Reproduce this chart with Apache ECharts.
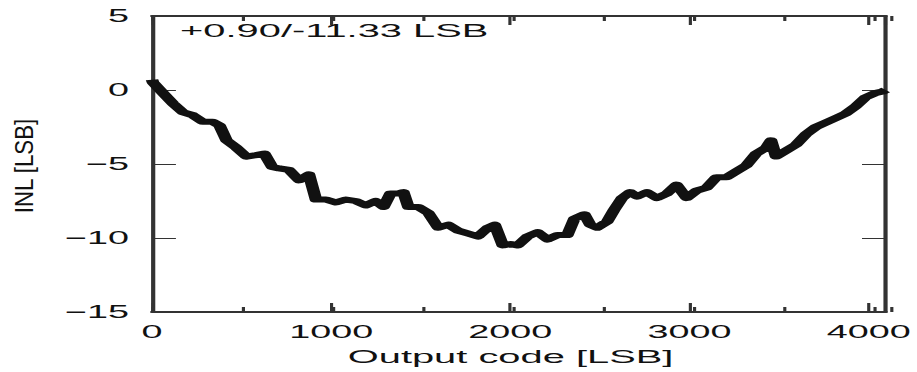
<!DOCTYPE html>
<html>
<head>
<meta charset="utf-8">
<script src="https://cdn.jsdelivr.net/npm/echarts@6/dist/echarts.min.js"></script>
<style>
html,body{margin:0;padding:0;background:#fff;overflow:hidden;}
#wrap{width:917px;height:372px;overflow:hidden;}
#chart{width:437px;height:372px;transform:scaleX(2.0984);transform-origin:0 0;}
</style>
</head>
<body>
<div id="wrap"><div id="chart"></div></div>
<script>
// Output code [LSB]
const codes = [0,6,61,116,172,227,283,338,377,416,471,527,582,627,671,710,765,821,876,915,971,1026,1082,1137,1192,1248,1292,1331,1375,1403,1431,1486,1542,1597,1653,1708,1764,1819,1875,1913,1958,2002,2041,2096,2152,2207,2263,2318,2357,2413,2446,2485,2540,2579,2623,2668,2707,2762,2818,2873,2928,2984,3039,3095,3150,3206,3261,3317,3372,3428,3455,3483,3539,3594,3649,3705,3760,3816,3871,3927,3982,4038,4077,4095];
// INL [LSB]
const inl = [0.7,0.5,-0.2,-0.9,-1.5,-1.7,-2.15,-2.15,-2.4,-3.4,-3.9,-4.5,-4.4,-4.3,-5.2,-5.3,-5.4,-6.1,-5.7,-7.4,-7.4,-7.6,-7.4,-7.5,-7.8,-7.5,-7.9,-7.0,-7.0,-6.9,-7.9,-7.9,-8.3,-9.3,-9.1,-9.5,-9.7,-9.9,-9.3,-9.1,-10.5,-10.4,-10.5,-9.9,-9.6,-10.1,-9.8,-9.8,-8.7,-8.4,-9.1,-9.3,-8.9,-8.1,-7.3,-6.9,-7.2,-6.9,-7.3,-7.0,-6.4,-7.3,-6.8,-6.6,-5.9,-5.9,-5.5,-5.1,-4.3,-3.9,-3.4,-4.5,-4.1,-3.7,-3.0,-2.5,-2.2,-1.9,-1.6,-1.1,-0.5,-0.2,-0.1,0.0];
const xTicks = [0,1000,2000,3000,4000];
const yTicks = [-15,-10,-5,0,5];
const annotation = '+0.90/-11.33 LSB';

const FONT = "'Liberation Sans', Arial, sans-serif";
const AX = '#333';
const gridRect = {left:72.44, right:11.91, top:16, bottom:60, containLabel:false};
const fmtY = v => (v < 0 ? '\u2212' + Math.abs(v) : String(v));

const chart = echarts.init(document.getElementById('chart'), null, {renderer:'svg'});
chart.setOption({
  animation:false,
  backgroundColor:'#fff',
  grid:[Object.assign({}, gridRect), Object.assign({}, gridRect)],
  xAxis:[
    {gridIndex:0, type:'value', position:'bottom', min:0, max:4096, interval:1000,
     axisLine:{onZero:false, lineStyle:{color:AX, width:2}},
     axisTick:{inside:true, length:9, lineStyle:{color:AX, width:1.5}},
     splitLine:{show:false},
     axisLabel:{margin:11, fontSize:18, color:'#111', fontFamily:FONT, showMaxLabel:false,
       formatter:v => (xTicks.indexOf(v) >= 0 ? String(v) : '')},
     name:'Output code [LSB]', nameLocation:'middle', nameGap:35,
     nameTextStyle:{fontSize:19, color:'#111', fontFamily:FONT, padding:[0,8,0,0]}},
    {gridIndex:0, type:'value', position:'top', min:0, max:4096, interval:1000,
     axisLine:{onZero:false, lineStyle:{color:AX, width:2}},
     axisTick:{inside:true, length:9, lineStyle:{color:AX, width:1.5}},
     axisLabel:{show:false}, splitLine:{show:false}},
    {gridIndex:1, type:'value', position:'bottom', min:0, max:4096, interval:500,
     axisLine:{show:false, onZero:false},
     axisTick:{inside:true, length:5, lineStyle:{color:AX, width:1.5}},
     axisLabel:{show:false}, splitLine:{show:false}},
    {gridIndex:1, type:'value', position:'top', min:0, max:4096, interval:500,
     axisLine:{show:false, onZero:false},
     axisTick:{inside:true, length:5, lineStyle:{color:AX, width:1.5}},
     axisLabel:{show:false}, splitLine:{show:false}}
  ],
  yAxis:[
    {gridIndex:0, type:'value', position:'left', min:-15, max:5, interval:5,
     axisLine:{onZero:false, lineStyle:{color:AX, width:2}},
     axisTick:{inside:true, length:11.4, lineStyle:{color:AX, width:1}},
     splitLine:{show:false},
     axisLabel:{margin:11, fontSize:18, color:'#111', fontFamily:FONT,
       formatter:v => (yTicks.indexOf(v) >= 0 ? fmtY(v) : '')}},
    {gridIndex:0, type:'value', position:'right', min:-15, max:5, interval:5,
     axisLine:{onZero:false, lineStyle:{color:AX, width:2}},
     axisTick:{inside:true, length:11.4, lineStyle:{color:AX, width:1}},
     axisLabel:{show:false}, splitLine:{show:false}},
    {gridIndex:1, type:'value', min:-15, max:5, show:false}
  ],
  graphic:[
    {type:'text', x:11.4, y:166, rotation:Math.PI/2, scaleX:1.39, scaleY:0.75,
     style:{text:'INL [LSB]', font:'16px ' + FONT, fill:'#111', align:'center', verticalAlign:'middle'}},
    {type:'text', x:85.8, y:31, style:{text:annotation, font:'19px ' + FONT, fill:'#111', align:'left', verticalAlign:'middle'}}
  ],
  series:[{
    type:'line', xAxisIndex:0, yAxisIndex:0, showSymbol:false, symbol:'none',
    lineStyle:{color:'#111', width:6, join:'round'},
    data:codes.map((c,i) => [c, inl[i]])
  }]
});
</script>
</body>
</html>
